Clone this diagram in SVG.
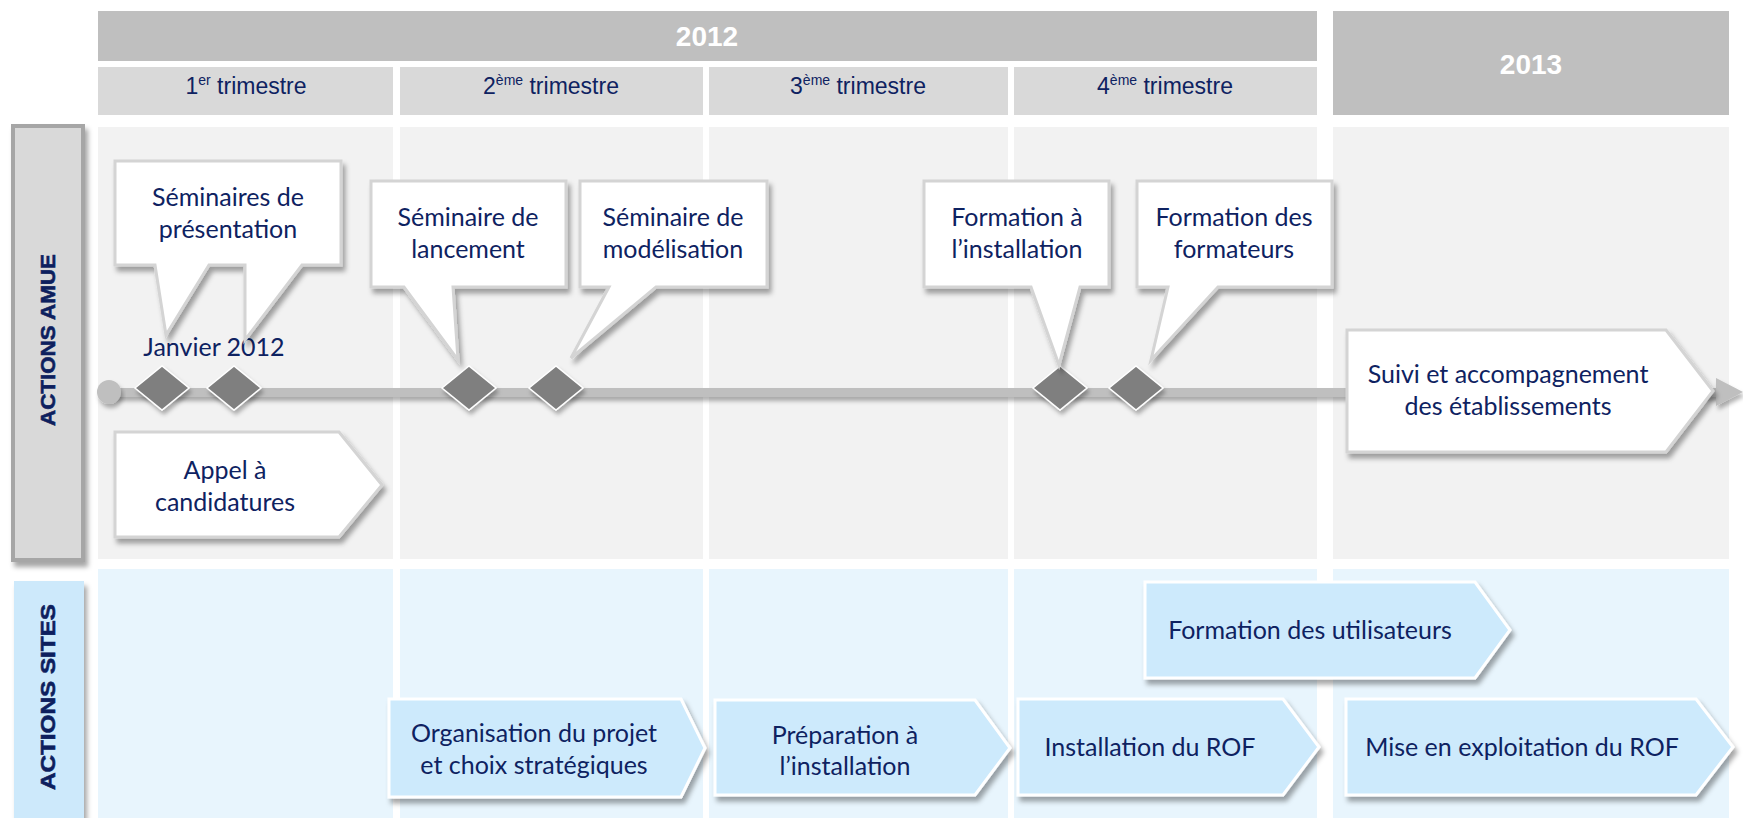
<svg xmlns="http://www.w3.org/2000/svg" width="1743" height="818" viewBox="0 0 1743 818">
<defs>
<filter id="sh" x="-10%" y="-10%" width="125%" height="140%">
<feDropShadow dx="3" dy="5" stdDeviation="2.5" flood-color="#000" flood-opacity="0.35"/>
</filter>
<filter id="shs" x="-10%" y="-50%" width="130%" height="250%">
<feDropShadow dx="2" dy="4" stdDeviation="2" flood-color="#000" flood-opacity="0.3"/>
</filter>
<style>
.yr{fill:#bfbfbf}
.tri{fill:#d9d9d9}
.bodyA{fill:#f2f2f2}
.bodyS{fill:#e8f5fd}
.yt{font-family:"Liberation Sans",Arial,sans-serif;font-weight:bold;font-size:28px;fill:#ffffff;text-anchor:middle}
.tt{font-family:"Liberation Sans",Arial,sans-serif;font-size:23px;fill:#0e2261;text-anchor:middle}
.sup{font-size:14px}
.lab{font-family:"Liberation Sans",Arial,sans-serif;font-weight:bold;font-size:21px;fill:#0e1f5e;text-anchor:middle;stroke:#0e1f5e;stroke-width:0.6}
.call{fill:#ffffff;stroke:#d4d4d4;stroke-width:3;stroke-linejoin:miter;filter:url(#sh)}
.blue{fill:#cdeafc;stroke:#ffffff;stroke-width:3;filter:url(#sh)}
.ct{font-family:Lato,"Open Sans",sans-serif;font-size:25px;fill:#0e2261;text-anchor:middle}
.dia{fill:#7f7f7f;stroke:#ffffff;stroke-width:1.5;filter:url(#shs)}
</style>
</defs>
<rect width="1743" height="818" fill="#ffffff"/>

<g id="grid">
<rect class="yr" x="98" y="11" width="1219" height="50"/>
<text class="yt" x="707" y="46">2012</text>
<rect class="yr" x="1333" y="11" width="396" height="104"/>
<text class="yt" x="1531" y="74">2013</text>
<rect class="tri" x="98" y="67" width="295" height="48"/>
<rect class="tri" x="400" y="67" width="303" height="48"/>
<rect class="tri" x="709" y="67" width="299" height="48"/>
<rect class="tri" x="1014" y="67" width="303" height="48"/>
<text class="tt" x="246" y="94">1<tspan class="sup" dy="-9">er</tspan><tspan dy="9"> trimestre</tspan></text>
<text class="tt" x="551" y="94">2<tspan class="sup" dy="-9">ème</tspan><tspan dy="9"> trimestre</tspan></text>
<text class="tt" x="858" y="94">3<tspan class="sup" dy="-9">ème</tspan><tspan dy="9"> trimestre</tspan></text>
<text class="tt" x="1165" y="94">4<tspan class="sup" dy="-9">ème</tspan><tspan dy="9"> trimestre</tspan></text>
<rect class="bodyA" x="98" y="127" width="295" height="432"/>
<rect class="bodyA" x="400" y="127" width="303" height="432"/>
<rect class="bodyA" x="709" y="127" width="299" height="432"/>
<rect class="bodyA" x="1014" y="127" width="303" height="432"/>
<rect class="bodyA" x="1333" y="127" width="396" height="432"/>
<rect class="bodyS" x="98" y="569" width="295" height="249"/>
<rect class="bodyS" x="400" y="569" width="303" height="249"/>
<rect class="bodyS" x="709" y="569" width="299" height="249"/>
<rect class="bodyS" x="1014" y="569" width="303" height="249"/>
<rect class="bodyS" x="1333" y="569" width="396" height="249"/>
</g>

<g id="label-amue">
<rect x="13" y="126" width="70" height="434" fill="#d9d9d9" stroke="#a6a6a6" stroke-width="4" filter="url(#sh)"/>
<text class="lab" transform="translate(55,340) rotate(-90)" textLength="172" lengthAdjust="spacingAndGlyphs">ACTIONS  AMUE</text>
</g>
<g id="label-sites">
<rect x="14" y="581" width="70" height="240" fill="#cde9fb" filter="url(#sh)"/>
<text class="lab" transform="translate(55,697) rotate(-90)" textLength="186" lengthAdjust="spacingAndGlyphs">ACTIONS SITES</text>
</g>

<g id="connectors">
<rect x="109" y="388" width="1609" height="9" fill="#bfbfbf" filter="url(#shs)"/>
<circle cx="109" cy="392" r="12" fill="#bfbfbf" filter="url(#shs)"/>
<polygon points="1716,378 1743,392 1716,406" fill="#bfbfbf" filter="url(#shs)"/>
</g>

<g id="milestones">
<polygon class="dia" points="135,388 162,366 189,388 162,410"/>
<polygon class="dia" points="207,388 234,366 261,388 234,410"/>
<polygon class="dia" points="442,388 469,366 496,388 469,410"/>
<polygon class="dia" points="529,388 556,366 583,388 556,410"/>
<polygon class="dia" points="1033,388 1060,366 1087,388 1060,410"/>
<polygon class="dia" points="1109,388 1136,366 1163,388 1136,410"/>
</g>

<g id="janvier">
<text class="ct" x="214" y="356">Janvier 2012</text>
</g>

<g id="seminaires-presentation">
<path class="call" d="M115,161 H341 V265 H302 L245,340 L245,265 H209 L166,335 L155,265 H115 Z"/>
<text class="ct" x="228" y="206">Séminaires de</text>
<text class="ct" x="228" y="238">présentation</text>
</g>

<g id="seminaire-lancement">
<path class="call" d="M371,181 H566 V287 H453 L458,360 L404,287 H371 Z"/>
<text class="ct" x="468" y="226">Séminaire de</text>
<text class="ct" x="468" y="258">lancement</text>
</g>

<g id="seminaire-modelisation">
<path class="call" d="M580,181 H767 V287 H656 L571,358 L609,287 H580 Z"/>
<text class="ct" x="673" y="226">Séminaire de</text>
<text class="ct" x="673" y="258">modélisation</text>
</g>

<g id="formation-installation">
<path class="call" d="M924,181 H1109 V287 H1080 L1059,365 L1031,287 H924 Z"/>
<text class="ct" x="1017" y="226">Formation à</text>
<text class="ct" x="1017" y="258">l’installation</text>
</g>

<g id="formation-formateurs">
<path class="call" d="M1137,181 H1332 V287 H1218 L1151,360 L1168,287 H1137 Z"/>
<text class="ct" x="1234" y="226">Formation des</text>
<text class="ct" x="1234" y="258">formateurs</text>
</g>

<g id="suivi">
<path class="call" d="M1347,330 H1666 L1713,391 L1666,452 H1347 Z"/>
<text class="ct" x="1508" y="383">Suivi et accompagnement</text>
<text class="ct" x="1508" y="415">des établissements</text>
</g>

<g id="appel">
<path class="call" d="M115,432 H339 L382,485 L339,537 H115 Z"/>
<text class="ct" x="225" y="479">Appel à</text>
<text class="ct" x="225" y="511">candidatures</text>
</g>

<g id="formation-utilisateurs">
<path class="blue" d="M1145,582 H1475 L1510,630 L1475,678 H1145 Z"/>
<text class="ct" x="1310" y="639">Formation des utilisateurs</text>
</g>

<g id="organisation">
<path class="blue" d="M389,699 H681 L705,748 L681,797 H389 Z"/>
<text class="ct" x="534" y="742">Organisation du projet</text>
<text class="ct" x="534" y="774">et choix stratégiques</text>
</g>

<g id="preparation">
<path class="blue" d="M715,700 H975 L1010,748 L975,795 H715 Z"/>
<text class="ct" x="845" y="744">Préparation à</text>
<text class="ct" x="845" y="775">l’installation</text>
</g>

<g id="installation">
<path class="blue" d="M1018,699 H1283 L1319,747 L1283,795 H1018 Z"/>
<text class="ct" x="1150" y="756">Installation du ROF</text>
</g>

<g id="exploitation">
<path class="blue" d="M1346,699 H1696 L1733,747 L1696,795 H1346 Z"/>
<text class="ct" x="1522" y="756">Mise en exploitation du ROF</text>
</g>
</svg>
